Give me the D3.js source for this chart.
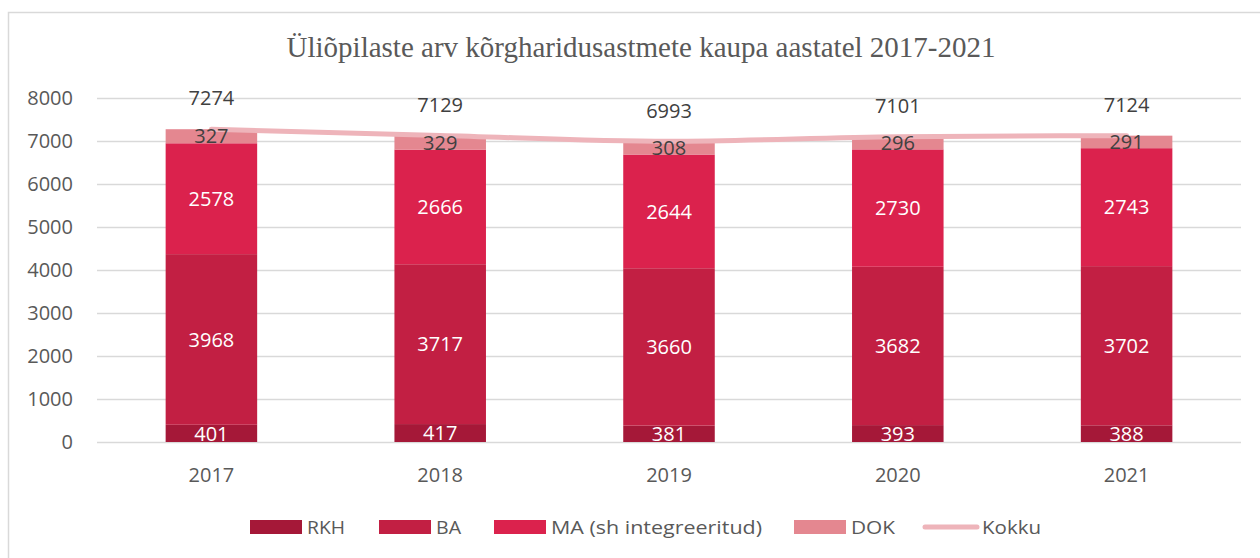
<!DOCTYPE html>
<html>
<head>
<meta charset="utf-8">
<title>Üliõpilaste arv</title>
<script src="https://cdnjs.cloudflare.com/ajax/libs/d3/7.8.5/d3.min.js"></script>
<style>
body { margin: 0; background: #fff; }
svg text { font-family: "Open Sans", sans-serif; }
</style>
</head>
<body>
<div id="chart"></div>
<script>
// andmed
var years = ["2017", "2018", "2019", "2020", "2021"];
var rkh = [401, 417, 381, 393, 388];
var ba = [3968, 3717, 3660, 3682, 3702];
var ma = [2578, 2666, 2644, 2730, 2743];
var dok = [327, 329, 308, 296, 291];
var kokku = [7274, 7129, 6993, 7101, 7124];
var yTicks = [0, 1000, 2000, 3000, 4000, 5000, 6000, 7000, 8000];
var seriesNames = ["RKH", "BA", "MA (sh integreeritud)", "DOK"];
var colors = ["#A51838", "#C21F43", "#DB224D", "#E48790"];
var lineColor = "#EEB4BA";

var W = 1260, H = 558;
var svg = d3.select("#chart").append("svg").attr("width", W).attr("height", H);

// raam
svg.append("rect").attr("x", 8.5).attr("y", 12.5).attr("width", 1270).attr("height", 560)
  .attr("fill", "#fff").attr("stroke", "#d9d9d9").attr("stroke-width", 1.5);

svg.append("text").attr("x", 641).attr("y", 57).attr("text-anchor", "middle")
  .style("font-family", "'Liberation Serif', serif").style("font-size", "29px")
  .attr("fill", "#595959").text("Üliõpilaste arv kõrgharidusastmete kaupa aastatel 2017-2021");

var x = d3.scaleBand().domain(years).range([97, 1241]).paddingInner(0.6).paddingOuter(0.3);
var y = d3.scaleLinear().domain([0, 8000]).range([442, 98]);

// ruudustik
svg.append("g").selectAll("line").data(yTicks).join("line")
  .attr("x1", 97).attr("x2", 1241)
  .attr("y1", function (d) { return y(d) + 0.5; }).attr("y2", function (d) { return y(d) + 0.5; })
  .attr("stroke", "#d9d9d9").attr("stroke-width", 1.5);

svg.append("g").selectAll("text").data(yTicks).join("text")
  .attr("x", 73).attr("y", function (d) { return y(d); }).attr("dy", "0.36em")
  .attr("text-anchor", "end").style("font-size", "20px").attr("fill", "#595959")
  .text(function (d) { return d; });

svg.append("g").selectAll("text").data(years).join("text")
  .attr("x", function (d) { return x(d) + x.bandwidth() / 2; }).attr("y", 475).attr("dy", "0.36em")
  .attr("text-anchor", "middle").style("font-size", "20px").attr("fill", "#595959")
  .text(function (d) { return d; });

var rows = years.map(function (yr, i) {
  return { year: yr, RKH: rkh[i], BA: ba[i], "MA (sh integreeritud)": ma[i], DOK: dok[i] };
});
var stack = d3.stack().keys(seriesNames)(rows);

var layers = svg.append("g").selectAll("g").data(stack).join("g")
  .attr("fill", function (d, i) { return colors[i]; });
layers.selectAll("rect").data(function (d) { return d; }).join("rect")
  .attr("x", function (d) { return x(d.data.year); })
  .attr("width", x.bandwidth())
  .attr("y", function (d) { return y(d[1]); })
  .attr("height", function (d) { return y(d[0]) - y(d[1]); });

// kokku joon
var line = d3.line().curve(d3.curveMonotoneX)
  .x(function (d, i) { return x(years[i]) + x.bandwidth() / 2; })
  .y(function (d) { return y(d); });
svg.append("path").datum(kokku).attr("d", line).attr("fill", "none")
  .attr("stroke", lineColor).attr("stroke-width", 5).attr("stroke-linecap", "round");

// segmentide sildid
stack.forEach(function (layer, li) {
  svg.append("g").selectAll("text").data(layer).join("text")
    .attr("x", function (d) { return x(d.data.year) + x.bandwidth() / 2; })
    .attr("y", function (d) { return y((d[0] + d[1]) / 2); }).attr("dy", "0.36em")
    .attr("text-anchor", "middle").style("font-size", "20px")
    .attr("fill", li === 3 ? "#404040" : "#fff")
    .text(function (d) { return d[1] - d[0]; });
});

svg.append("g").selectAll("text").data(kokku).join("text")
  .attr("x", function (d, i) { return x(years[i]) + x.bandwidth() / 2; })
  .attr("y", function (d) { return y(d) - 31; }).attr("dy", "0.36em")
  .attr("text-anchor", "middle").style("font-size", "20px").attr("fill", "#404040")
  .text(function (d) { return d; });

// legend
var legX = [250, 379, 494, 794];
var legW = [38, 25, 211, 44];
seriesNames.forEach(function (n, i) {
  svg.append("rect").attr("x", legX[i]).attr("y", 520).attr("width", 52).attr("height", 14).attr("fill", colors[i]);
  svg.append("text").attr("x", legX[i] + 57).attr("y", 527).attr("dy", "0.36em")
    .attr("textLength", legW[i]).attr("lengthAdjust", "spacingAndGlyphs")
    .style("font-size", "19px").attr("fill", "#595959").text(n);
});
svg.append("line").attr("x1", 925).attr("x2", 977).attr("y1", 527).attr("y2", 527)
  .attr("stroke", lineColor).attr("stroke-width", 5).attr("stroke-linecap", "round");
svg.append("text").attr("x", 982).attr("y", 527).attr("dy", "0.36em")
  .attr("textLength", 59).attr("lengthAdjust", "spacingAndGlyphs")
  .style("font-size", "19px").attr("fill", "#595959").text("Kokku");
</script>
</body>
</html>
